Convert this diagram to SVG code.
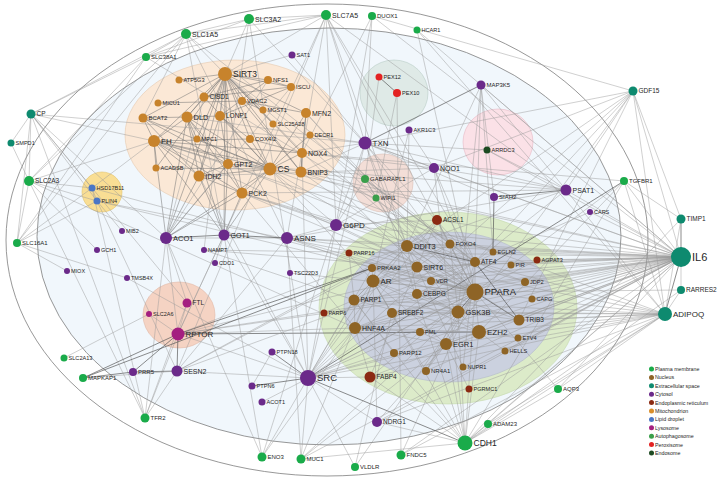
<svg xmlns="http://www.w3.org/2000/svg" width="718" height="481" viewBox="0 0 718 481">
<style>
text{font-family:"Liberation Sans",Arial,sans-serif;fill:#262626}
.f5{font-size:5.5px}.f56{font-size:5.6px}.f6{font-size:6px}.f65{font-size:6.5px}.f7{font-size:7px}.f75{font-size:7.5px}.f8{font-size:8px}.f85{font-size:8.5px}.f95{font-size:9.5px}.f11{font-size:11px}
.pm{fill:#1aab4a}.ex{fill:#0e8a6f}.cy{fill:#6b2a8a}.mi{fill:#c7832c}.nu{fill:#8e6426}.er{fill:#8b2a12}.li{fill:#4a76c6}.ly{fill:#a41f80}.au{fill:#3a9f4b}.px{fill:#e32222}.en{fill:#1d4b22}
#connectors path{fill:none;stroke:#999;stroke-width:.55;stroke-opacity:.85}
#connectors .m{stroke:#707070;stroke-width:.6}
#connectors .d{stroke:#555;stroke-width:.8}
.lg{font-size:5.3px}
</style>
<rect width="718" height="481" fill="#fff"/>
<g id="compartments">
<ellipse cx="327" cy="240" rx="321" ry="236" fill="none" stroke="#7d7d7d" stroke-width=".8"/>
<ellipse cx="329" cy="236.5" rx="292" ry="208.5" fill="#f1f7fc" stroke="#7d7d7d" stroke-width=".8"/>
<ellipse cx="235" cy="135" rx="110" ry="75" fill="#fbe8d6" stroke="#e5c9ae" stroke-width=".6"/>
<ellipse cx="102" cy="192" rx="20" ry="20" fill="#f9de94" stroke="#e3c46e" stroke-width=".6"/>
<ellipse cx="179" cy="315" rx="36" ry="33" fill="#f5d3c3" stroke="#e0b7a4" stroke-width=".6"/>
<ellipse cx="394" cy="93" rx="34" ry="33" fill="#dfeae7" stroke="#b9ccc6" stroke-width=".6"/>
<ellipse cx="498" cy="142" rx="35" ry="33" fill="#fbe1e7" stroke="#e5b9c4" stroke-width=".6"/>
<ellipse cx="383" cy="183" rx="30" ry="29" fill="#f3ded7" stroke="#dcc0b5" stroke-width=".6"/>
<ellipse cx="448" cy="308" rx="129" ry="96" fill="#dcebc9" stroke="#c4d9ac" stroke-width=".6"/>
<ellipse cx="449" cy="307" rx="105" ry="75" fill="#cbd1df" stroke="#b2b9c9" stroke-width=".6"/>
</g>
<g id="connectors">
<path class="m" d="M225 74L270 169"/><path class="m" d="M225 74L199 176"/><path class="m" d="M225 74L154 141"/><path class="m" d="M225 74L187 117"/><path class="m" d="M225 74L220 116"/><path class="m" d="M225 74L268 80"/><path class="m" d="M225 74L291 87"/><path class="m" d="M225 74L242 101"/><path class="m" d="M225 74L263 110"/><path class="m" d="M225 74L306 113"/><path class="m" d="M225 74L273 124"/><path class="m" d="M225 74L250 139"/><path class="m" d="M225 74L302 153"/><path class="m" d="M225 74L301 172"/><path class="m" d="M225 74L242 193"/><path class="m" d="M225 74L204 97"/><path class="m" d="M225 74L143 118"/><path class="m" d="M225 74L156 168"/><path class="m" d="M225 74L228 164"/><path class="m" d="M225 74L166 238"/><path class="m" d="M225 74L224 235"/><path class="m" d="M225 74L179 80"/><path class="m" d="M225 74L197 139"/>
<path class="m" d="M270 169L154 141"/><path class="m" d="M270 169L187 117"/><path class="m" d="M270 169L199 176"/><path class="m" d="M270 169L228 164"/><path class="m" d="M270 169L242 193"/><path class="m" d="M270 169L166 238"/><path class="m" d="M270 169L224 235"/><path class="m" d="M270 169L143 118"/><path class="m" d="M270 169L220 116"/><path class="m" d="M270 169L306 113"/><path class="m" d="M270 169L302 153"/><path class="m" d="M270 169L250 139"/><path class="m" d="M270 169L197 139"/><path class="m" d="M270 169L156 168"/><path class="m" d="M270 169L310 135"/><path class="m" d="M270 169L204 97"/>
<path class="m" d="M154 141L187 117"/><path class="m" d="M154 141L199 176"/><path class="m" d="M154 141L228 164"/><path class="m" d="M154 141L242 193"/><path class="m" d="M154 141L166 238"/><path class="m" d="M154 141L224 235"/><path class="m" d="M154 141L143 118"/><path class="m" d="M154 141L250 139"/><path class="m" d="M154 141L302 153"/><path class="m" d="M154 141L301 172"/><path class="m" d="M154 141L156 168"/>
<path class="m" d="M187 117L199 176"/><path class="m" d="M187 117L228 164"/><path class="m" d="M187 117L143 118"/><path class="m" d="M187 117L220 116"/><path class="m" d="M187 117L166 238"/><path class="m" d="M187 117L224 235"/><path class="m" d="M187 117L242 193"/><path class="m" d="M187 117L204 97"/><path class="m" d="M187 117L197 139"/>
<path class="m" d="M199 176L228 164"/><path class="m" d="M199 176L242 193"/><path class="m" d="M199 176L166 238"/><path class="m" d="M199 176L224 235"/><path class="m" d="M199 176L143 118"/>
<path class="m" d="M228 164L242 193"/><path class="m" d="M228 164L224 235"/><path class="m" d="M228 164L166 238"/><path class="m" d="M242 193L224 235"/><path class="m" d="M242 193L166 238"/>
<path class="m" d="M301 172L302 153"/><path class="m" d="M301 172L306 113"/><path class="m" d="M301 172L242 101"/><path class="m" d="M242 101L306 113"/><path class="m" d="M268 80L291 87"/><path class="m" d="M268 80L204 97"/><path class="m" d="M268 80L220 116"/><path class="m" d="M220 116L250 139"/><path class="m" d="M220 116L291 87"/><path class="m" d="M306 113L302 153"/><path class="m" d="M291 87L204 97"/><path class="m" d="M228 164L143 118"/><path class="m" d="M250 139L302 153"/><path class="m" d="M220 116L228 164"/><path class="m" d="M220 116L199 176"/><path class="m" d="M158 103L242 101"/><path class="m" d="M263 110L242 101"/>
<path d="M225 74L186 34"/><path d="M225 74L326 15"/><path d="M225 74L249 19"/><path d="M225 74L292 55"/><path d="M225 74L475 292"/><path d="M225 74L417 267"/><path d="M225 74L450 244"/>
<path d="M270 169L475 292"/><path d="M270 169L665 314"/><path d="M270 169L373 281"/><path d="M270 169L336 225"/><path d="M270 169L681 257"/><path d="M154 141L475 292"/><path d="M154 141L493 252"/><path d="M199 176L434 168"/><path d="M199 176L308 378"/>
<path d="M242 193L475 262"/><path d="M242 193L475 292"/><path d="M242 193L355 328"/><path d="M242 193L407 246"/><path d="M228 164L475 262"/><path d="M302 153L365 143"/><path d="M302 153L434 168"/><path d="M302 153L624 181"/><path d="M302 153L308 378"/>
<path d="M301 172L365 143"/><path d="M301 172L407 246"/><path d="M301 172L365 179"/><path d="M301 172L376 198"/><path d="M301 172L681 257"/><path d="M306 113L475 292"/><path d="M187 117L365 143"/><path d="M306 113L365 179"/><path d="M310 135L475 292"/><path d="M204 97L166 238"/><path d="M268 80L166 238"/><path d="M291 87L166 238"/><path d="M143 118L186 34"/>
<path d="M186 34L249 19"/><path d="M186 34L326 15"/><path d="M249 19L326 15"/><path d="M186 34L146 57"/><path d="M146 57L249 19"/><path d="M146 57L326 15"/><path d="M186 34L287 238"/><path d="M326 15L287 238"/><path d="M249 19L475 262"/><path d="M326 15L475 262"/><path d="M326 15L407 246"/><path d="M186 34L475 262"/><path d="M146 57L475 262"/><path d="M326 15L178 334"/><path d="M326 15L177 371"/><path d="M186 34L29 181"/><path d="M146 57L29 181"/><path d="M326 15L566 190"/><path d="M186 34L17 243"/><path d="M249 19L308 378"/><path d="M326 15L365 143"/><path d="M186 34L224 235"/><path d="M186 34L31 114"/><path d="M146 57L31 114"/><path d="M249 19L228 164"/><path d="M326 15L336 225"/><path d="M326 15L475 292"/>
<path d="M372 16L302 153"/><path d="M372 16L365 143"/><path d="M372 16L336 225"/><path d="M372 16L681 257"/><path d="M372 16L633 91"/><path d="M417 30L475 292"/><path d="M417 30L665 314"/><path d="M417 30L681 257"/><path d="M292 55L365 143"/>
<path d="M31 114L11 143"/><path d="M31 114L29 181"/><path d="M31 114L17 243"/><path d="M31 114L92 188"/><path d="M31 114L97 201"/><path d="M31 114L166 238"/><path d="M31 114L187 303"/><path d="M31 114L145 418"/><path d="M31 114L365 143"/><path d="M31 114L154 141"/>
<path d="M11 143L29 181"/><path d="M29 181L17 243"/><path d="M29 181L92 188"/><path d="M29 181L97 201"/><path d="M29 181L154 141"/><path d="M29 181L355 328"/><path d="M17 243L97 201"/><path d="M17 243L92 188"/><path d="M17 243L146 57"/><path d="M17 243L127 278"/><path d="M92 188L97 201"/><path d="M92 188L154 141"/><path d="M92 188L475 292"/><path d="M97 201L475 292"/><path d="M97 201L665 314"/><path d="M97 201L177 371"/><path d="M92 188L145 418"/><path d="M122 231L97 201"/><path d="M97 250L29 181"/><path d="M67 271L17 243"/><path d="M127 278L308 378"/>
<path d="M187 303L178 334"/><path d="M187 303L145 418"/><path d="M187 303L166 238"/><path d="M149 314L178 334"/><path d="M149 314L64 358"/><path class="d" d="M178 334L177 371"/><path class="d" d="M178 334L133 372"/><path class="d" d="M178 334L83 378"/><path d="M178 334L145 418"/><path d="M178 334L475 262"/><path d="M178 334L407 246"/><path class="d" d="M178 334L372 268"/><path d="M178 334L355 328"/><path d="M178 334L681 257"/><path d="M178 334L166 238"/><path d="M178 334L224 235"/><path d="M178 334L475 292"/><path d="M178 334L308 378"/><path class="d" d="M178 334L479 332"/>
<path class="d" d="M133 372L83 378"/><path class="d" d="M133 372L177 371"/><path d="M83 378L177 371"/><path class="d" d="M83 378L372 268"/><path d="M177 371L475 262"/><path d="M177 371L407 246"/><path d="M177 371L372 268"/><path d="M177 371L145 418"/><path d="M145 418L29 181"/><path d="M145 418L166 238"/>
<path class="d" d="M166 238L224 235"/><path d="M166 238L287 238"/><path d="M166 238L262 457"/><path class="d" d="M224 235L287 238"/><path d="M224 235L262 457"/><path d="M224 235L308 378"/><path d="M215 263L224 235"/>
<path d="M287 238L475 262"/><path d="M287 238L407 246"/><path d="M287 238L566 190"/><path d="M287 238L336 225"/><path d="M287 238L177 371"/><path d="M287 238L475 292"/><path d="M287 238L301 459"/><path d="M287 238L519 320"/><path d="M287 238L681 257"/>
<path d="M336 225L365 143"/><path d="M336 225L434 168"/><path d="M336 225L308 378"/><path d="M336 225L475 292"/><path d="M336 225L681 257"/><path d="M336 225L437 220"/><path d="M336 225L365 179"/><path d="M336 225L242 193"/><path d="M336 225L262 457"/>
<path d="M204 250L225 74"/><path d="M204 250L417 267"/><path d="M204 250L354 300"/><path d="M204 250L681 257"/><path d="M290 273L475 292"/>
<path d="M365 179L376 198"/><path d="M365 179L450 244"/><path d="M365 179L407 246"/><path d="M365 179L475 262"/><path d="M365 179L475 292"/><path d="M376 198L407 246"/><path d="M376 198L397 93"/><path class="d" d="M379 77L397 93"/><path d="M397 93L401 455"/><path d="M379 77L365 179"/>
<path class="d" d="M481 85L365 143"/><path d="M481 85L566 190"/><path d="M481 85L407 246"/><path d="M481 85L475 262"/><path d="M481 85L494 197"/><path d="M481 85L493 252"/><path d="M481 85L681 257"/><path d="M481 85L458 312"/>
<path d="M633 91L681 219"/><path d="M633 91L681 257"/><path d="M633 91L665 314"/><path d="M633 91L475 262"/><path d="M633 91L407 246"/><path d="M633 91L566 190"/><path d="M633 91L434 168"/><path d="M633 91L365 143"/><path d="M633 91L446 344"/><path d="M633 91L308 378"/><path d="M633 91L519 320"/>
<path class="d" d="M681 219L681 257"/><path d="M681 219L665 314"/><path d="M681 219L624 181"/><path d="M681 219L465 443"/>
<path d="M624 181L681 257"/><path d="M624 181L665 314"/><path class="d" d="M624 181L308 378"/><path d="M624 181L465 443"/><path d="M624 181L479 332"/><path d="M624 181L475 292"/>
<path d="M487 150L365 143"/><path d="M487 150L566 190"/><path d="M487 150L681 257"/>
<path d="M365 143L434 168"/><path d="M365 143L566 190"/><path d="M365 143L681 257"/><path d="M365 143L407 246"/><path d="M365 143L308 378"/><path d="M365 143L465 443"/><path d="M365 143L494 197"/><path d="M365 143L475 292"/>
<path d="M434 168L566 190"/><path d="M434 168L681 257"/><path d="M434 168L475 262"/><path d="M434 168L465 443"/><path d="M434 168L475 292"/><path d="M409 130L373 281"/><path d="M409 130L434 168"/><path d="M409 130L407 246"/>
<path class="d" d="M566 190L494 197"/><path d="M566 190L475 262"/><path d="M566 190L407 246"/><path d="M566 190L681 257"/><path d="M566 190L665 314"/><path d="M566 190L242 193"/><path d="M566 190L228 164"/><path class="d" d="M494 197L493 252"/><path d="M590 212L475 262"/><path d="M590 212L681 257"/><path d="M493 252L681 257"/>
<path d="M681 257L681 290"/><path class="d" d="M681 257L665 314"/><path d="M681 257L475 292"/><path d="M681 257L475 262"/><path d="M681 257L407 246"/><path d="M681 257L446 344"/><path d="M681 257L479 332"/><path d="M681 257L458 312"/><path d="M681 257L519 320"/><path d="M681 257L373 281"/><path d="M681 257L355 328"/><path d="M681 257L392 313"/><path d="M681 257L417 267"/><path d="M681 257L354 300"/><path d="M681 257L308 378"/><path d="M681 257L465 443"/><path d="M681 257L377 422"/><path d="M681 257L437 220"/><path d="M681 257L370 377"/><path d="M681 257L525 282"/><path d="M681 257L511 265"/><path d="M681 257L532 299"/><path d="M681 257L537 260"/><path d="M681 257L505 351"/><path d="M681 257L518 338"/><path d="M681 257L431 281"/><path d="M681 257L417 294"/><path d="M681 257L450 244"/><path d="M681 257L558 389"/><path d="M681 257L488 424"/><path d="M681 257L401 455"/><path d="M681 257L301 459"/><path d="M681 257L426 371"/><path d="M681 257L420 332"/><path d="M681 257L463 367"/><path d="M681 257L372 268"/>
<path d="M665 314L475 292"/><path d="M665 314L681 290"/><path d="M665 314L446 344"/><path d="M665 314L479 332"/><path d="M665 314L355 328"/><path d="M665 314L370 377"/><path d="M665 314L308 378"/><path d="M665 314L465 443"/><path d="M665 314L354 300"/><path d="M665 314L392 313"/><path d="M665 314L519 320"/><path d="M665 314L458 312"/><path d="M665 314L475 262"/><path d="M665 314L401 455"/><path d="M665 314L377 422"/><path d="M665 314L558 389"/><path d="M665 314L488 424"/><path d="M681 290L475 292"/><path d="M681 290L465 443"/>
<path class="d" d="M308 378L252 386"/><path class="d" d="M308 378L272 352"/><path d="M252 386L272 352"/><path class="d" d="M308 378L465 443"/><path d="M308 378L301 459"/><path d="M308 378L262 457"/><path d="M308 378L355 467"/><path d="M308 378L377 422"/><path d="M308 378L479 332"/><path d="M308 378L446 344"/><path d="M308 378L373 281"/><path d="M308 378L354 300"/><path d="M308 378L355 328"/><path d="M308 378L458 312"/><path d="M308 378L475 292"/><path d="M308 378L370 377"/><path d="M308 378L177 371"/><path d="M308 378L372 268"/><path d="M308 378L475 262"/><path d="M308 378L407 246"/>
<path d="M262 402L475 292"/><path d="M262 457L355 328"/><path d="M301 459L465 443"/><path d="M301 459L446 344"/><path d="M301 459L373 281"/><path d="M301 459L458 312"/><path d="M355 467L475 292"/><path d="M355 467L392 313"/><path d="M401 455L475 292"/>
<path d="M377 422L465 443"/><path d="M377 422L446 344"/><path d="M377 422L373 281"/><path d="M488 424L465 443"/><path d="M558 389L465 443"/><path d="M558 389L475 292"/>
<path d="M465 443L479 332"/><path d="M465 443L458 312"/><path d="M465 443L446 344"/><path d="M465 443L373 281"/><path d="M465 443L355 328"/><path d="M465 443L475 292"/><path d="M465 443L354 300"/><path d="M465 443L370 377"/>
<path d="M475 292L373 281"/><path d="M475 292L355 328"/><path class="d" d="M475 292L458 312"/><path d="M475 292L479 332"/><path class="d" d="M475 292L519 320"/><path d="M475 292L475 262"/><path d="M475 292L407 246"/><path d="M475 292L417 267"/><path d="M475 292L417 294"/><path d="M475 292L392 313"/><path d="M475 292L446 344"/><path d="M475 292L354 300"/><path d="M475 292L450 244"/><path d="M475 292L420 332"/><path d="M475 292L431 281"/><path d="M475 292L372 268"/><path d="M475 292L426 371"/><path d="M475 292L437 220"/><path d="M475 292L370 377"/><path d="M475 292L349 253"/>
<path d="M458 312L373 281"/><path d="M458 312L479 332"/><path d="M458 312L519 320"/><path d="M458 312L475 262"/><path d="M458 312L407 246"/><path d="M458 312L392 313"/><path d="M458 312L355 328"/><path d="M458 312L417 294"/><path d="M458 312L354 300"/><path d="M458 312L450 244"/><path d="M458 312L426 371"/><path d="M458 312L372 268"/>
<path class="d" d="M475 262L407 246"/><path class="d" d="M475 262L519 320"/><path d="M475 262L417 294"/><path d="M475 262L525 282"/><path d="M475 262L450 244"/><path d="M475 262L463 367"/><path d="M407 246L519 320"/><path d="M407 246L417 294"/><path d="M407 246L373 281"/><path d="M407 246L525 282"/><path d="M407 246L354 300"/><path d="M407 246L463 367"/>
<path d="M479 332L373 281"/><path d="M479 332L446 344"/><path d="M479 332L355 328"/><path d="M479 332L354 300"/><path d="M479 332L505 351"/><path d="M479 332L518 338"/>
<path d="M373 281L354 300"/><path d="M373 281L355 328"/><path d="M373 281L446 344"/><path d="M373 281L417 267"/><path d="M373 281L372 268"/><path d="M373 281L431 281"/><path d="M373 281L392 313"/><path d="M373 281L450 244"/><path d="M373 281L426 371"/>
<path d="M355 328L354 300"/><path d="M355 328L392 313"/><path d="M355 328L446 344"/><path d="M355 328L420 332"/><path d="M355 328L370 377"/><path d="M446 344L426 371"/><path d="M446 344L420 332"/><path d="M417 267L354 300"/><path d="M417 267L450 244"/><path d="M417 267L372 268"/><path d="M354 300L394 353"/><path d="M354 300L349 253"/><path d="M354 300L324 313"/><path d="M394 353L420 332"/>
<path d="M437 220L407 246"/><path d="M437 220L355 328"/><path d="M437 220L450 244"/><path d="M437 220L370 377"/><path d="M537 260L475 292"/><path d="M469 389L446 344"/><path d="M450 244L407 246"/>
</g>
<g id="nodes">
<g id="n-SLC3A2"><circle class="pm" cx="249" cy="19" r="5"/><text class="f7" x="255" y="21.5">SLC3A2</text></g>
<g id="n-SLC7A5"><circle class="pm" cx="326" cy="15" r="5"/><text class="f7" x="332" y="17.5">SLC7A5</text></g>
<g id="n-SLC1A5"><circle class="pm" cx="186" cy="34" r="5"/><text class="f7" x="192" y="36.5">SLC1A5</text></g>
<g id="n-SLC38A1"><circle class="pm" cx="146" cy="57" r="4"/><text class="f6" x="151" y="59.2">SLC38A1</text></g>
<g id="n-DUOX1"><circle class="pm" cx="372" cy="16" r="4"/><text class="f6" x="377" y="18.2">DUOX1</text></g>
<g id="n-HCAR1"><circle class="pm" cx="417" cy="30" r="3.5"/><text class="f56" x="421.5" y="32">HCAR1</text></g>
<g id="n-SLC2A3"><circle class="pm" cx="29" cy="181" r="5"/><text class="f65" x="35" y="183.3">SLC2A3</text></g>
<g id="n-SLC16A1"><circle class="pm" cx="17" cy="243" r="4"/><text class="f6" x="22" y="245.2">SLC16A1</text></g>
<g id="n-SLC2A13"><circle class="pm" cx="64" cy="358" r="3.5"/><text class="f56" x="68.5" y="360">SLC2A13</text></g>
<g id="n-MAPKAP1"><circle class="pm" cx="83" cy="378" r="4"/><text class="f6" x="88" y="380.2">MAPKAP1</text></g>
<g id="n-TFR2"><circle class="pm" cx="145" cy="418" r="4.5"/><text class="f6" x="150.5" y="420.2">TFR2</text></g>
<g id="n-ENO3"><circle class="pm" cx="262" cy="457" r="4.5"/><text class="f6" x="267.5" y="459.2">ENO3</text></g>
<g id="n-MUC1"><circle class="pm" cx="301" cy="459" r="4.5"/><text class="f6" x="306.5" y="461.2">MUC1</text></g>
<g id="n-VLDLR"><circle class="pm" cx="355" cy="467" r="4"/><text class="f6" x="360" y="469.2">VLDLR</text></g>
<g id="n-FNDC5"><circle class="pm" cx="401" cy="455" r="4.5"/><text class="f6" x="406.5" y="457.2">FNDC5</text></g>
<g id="n-CDH1"><circle class="pm" cx="465" cy="443" r="7.5"/><text class="f85" x="473.5" y="446">CDH1</text></g>
<g id="n-ADAM23"><circle class="pm" cx="488" cy="424" r="4"/><text class="f6" x="493" y="426.2">ADAM23</text></g>
<g id="n-AQP3"><circle class="pm" cx="558" cy="389" r="4"/><text class="f6" x="563" y="391.2">AQP3</text></g>
<g id="n-TGFBR1"><circle class="pm" cx="624" cy="181" r="4"/><text class="f6" x="629" y="183.2">TGFBR1</text></g>
<g id="n-CP"><circle class="ex" cx="31" cy="114" r="4.5"/><text class="f65" x="36.5" y="116.3">CP</text></g>
<g id="n-SMPD1"><circle class="ex" cx="11" cy="143" r="3.5"/><text class="f56" x="15.5" y="145">SMPD1</text></g>
<g id="n-GDF15"><circle class="ex" cx="633" cy="91" r="4.5"/><text class="f65" x="638.5" y="93.3">GDF15</text></g>
<g id="n-TIMP1"><circle class="ex" cx="681" cy="219" r="4.5"/><text class="f65" x="686.5" y="221.3">TIMP1</text></g>
<g id="n-IL6"><circle class="ex" cx="681" cy="257" r="10"/><text class="f11" x="692" y="261">IL6</text></g>
<g id="n-RARRES2"><circle class="ex" cx="681" cy="290" r="4"/><text class="f65" x="686" y="292.3">RARRES2</text></g>
<g id="n-ADIPOQ"><circle class="ex" cx="665" cy="314" r="7"/><text class="f8" x="673" y="317">ADIPOQ</text></g>
<g id="n-SAT1"><circle class="cy" cx="292" cy="55" r="3.5"/><text class="f56" x="296.5" y="57">SAT1</text></g>
<g id="n-MIB2"><circle class="cy" cx="122" cy="231" r="3"/><text class="f5" x="126" y="233">MIB2</text></g>
<g id="n-ACO1"><circle class="cy" cx="166" cy="238" r="6"/><text class="f75" x="173" y="240.7">ACO1</text></g>
<g id="n-GOT1"><circle class="cy" cx="224" cy="235" r="5.5"/><text class="f7" x="230.5" y="237.5">GOT1</text></g>
<g id="n-ASNS"><circle class="cy" cx="287" cy="238" r="6"/><text class="f8" x="294" y="240.9">ASNS</text></g>
<g id="n-G6PD"><circle class="cy" cx="336" cy="225" r="6"/><text class="f8" x="343" y="227.9">G6PD</text></g>
<g id="n-GCH1"><circle class="cy" cx="97" cy="250" r="3"/><text class="f5" x="101" y="252">GCH1</text></g>
<g id="n-NAMPT"><circle class="cy" cx="204" cy="250" r="3"/><text class="f5" x="208" y="252">NAMPT</text></g>
<g id="n-CDO1"><circle class="cy" cx="215" cy="263" r="3"/><text class="f5" x="219" y="265">CDO1</text></g>
<g id="n-MIOX"><circle class="cy" cx="67" cy="271" r="3"/><text class="f5" x="71" y="273">MIOX</text></g>
<g id="n-TMSB4X"><circle class="cy" cx="127" cy="278" r="3"/><text class="f5" x="131" y="280">TMSB4X</text></g>
<g id="n-TSC22D3"><circle class="cy" cx="290" cy="273" r="3"/><text class="f5" x="294" y="275">TSC22D3</text></g>
<g id="n-PTPN18"><circle class="cy" cx="272" cy="352" r="3.5"/><text class="f56" x="276.5" y="354">PTPN18</text></g>
<g id="n-PRR5"><circle class="cy" cx="133" cy="372" r="4"/><text class="f6" x="138" y="374.2">PRR5</text></g>
<g id="n-SESN2"><circle class="cy" cx="177" cy="371" r="5.5"/><text class="f7" x="183.5" y="373.5">SESN2</text></g>
<g id="n-SRC"><circle class="cy" cx="308" cy="378" r="8"/><text class="f95" x="317" y="381.4">SRC</text></g>
<g id="n-PTPN6"><circle class="cy" cx="252" cy="386" r="3.5"/><text class="f56" x="256.5" y="388">PTPN6</text></g>
<g id="n-ACOT1"><circle class="cy" cx="262" cy="402" r="3.5"/><text class="f56" x="266.5" y="404">ACOT1</text></g>
<g id="n-MAP3K5"><circle class="cy" cx="481" cy="85" r="4.5"/><text class="f6" x="486.5" y="87.2">MAP3K5</text></g>
<g id="n-AKR1C3"><circle class="cy" cx="409" cy="130" r="3.5"/><text class="f56" x="413.5" y="132">AKR1C3</text></g>
<g id="n-TXN"><circle class="cy" cx="365" cy="143" r="6.5"/><text class="f8" x="372.5" y="145.9">TXN</text></g>
<g id="n-NQO1"><circle class="cy" cx="434" cy="168" r="5"/><text class="f7" x="440" y="170.5">NQO1</text></g>
<g id="n-PSAT1"><circle class="cy" cx="566" cy="190" r="5.5"/><text class="f7" x="572.5" y="192.5">PSAT1</text></g>
<g id="n-SIAH2"><circle class="cy" cx="494" cy="197" r="4"/><text class="f6" x="499" y="199.2">SIAH2</text></g>
<g id="n-CARS"><circle class="cy" cx="590" cy="212" r="3"/><text class="f5" x="594" y="214">CARS</text></g>
<g id="n-NDRG1"><circle class="cy" cx="377" cy="422" r="5"/><text class="f65" x="383" y="424.3">NDRG1</text></g>
<g id="n-SIRT3"><circle class="mi" cx="225" cy="74" r="7"/><text class="f85" x="233" y="77">SIRT3</text></g>
<g id="n-ATP5G3"><circle class="mi" cx="179" cy="80" r="3.5"/><text class="f56" x="183.5" y="82">ATP5G3</text></g>
<g id="n-NFS1"><circle class="mi" cx="268" cy="80" r="4"/><text class="f6" x="273" y="82.2">NFS1</text></g>
<g id="n-ISCU"><circle class="mi" cx="291" cy="87" r="4"/><text class="f6" x="296" y="89.2">ISCU</text></g>
<g id="n-CISD1"><circle class="mi" cx="204" cy="97" r="4.5"/><text class="f65" x="209.5" y="99.3">CISD1</text></g>
<g id="n-MICU1"><circle class="mi" cx="158" cy="103" r="3.5"/><text class="f56" x="162.5" y="105">MICU1</text></g>
<g id="n-VDAC2"><circle class="mi" cx="242" cy="101" r="4"/><text class="f6" x="247" y="103.2">VDAC2</text></g>
<g id="n-MGST1"><circle class="mi" cx="263" cy="110" r="3.5"/><text class="f56" x="267.5" y="112">MGST1</text></g>
<g id="n-MFN2"><circle class="mi" cx="306" cy="113" r="5"/><text class="f7" x="312" y="115.5">MFN2</text></g>
<g id="n-BCAT2"><circle class="mi" cx="143" cy="118" r="4.5"/><text class="f6" x="148.5" y="120.2">BCAT2</text></g>
<g id="n-DLD"><circle class="mi" cx="187" cy="117" r="5.5"/><text class="f75" x="193.5" y="119.7">DLD</text></g>
<g id="n-LONP1"><circle class="mi" cx="220" cy="116" r="5"/><text class="f65" x="226" y="118.3">LONP1</text></g>
<g id="n-SLC25A28"><circle class="mi" cx="273" cy="124" r="3.5"/><text class="f56" x="277.5" y="126">SLC25A28</text></g>
<g id="n-DECR1"><circle class="mi" cx="310" cy="135" r="3.5"/><text class="f56" x="314.5" y="137">DECR1</text></g>
<g id="n-FH"><circle class="mi" cx="154" cy="141" r="6"/><text class="f8" x="161" y="143.9">FH</text></g>
<g id="n-MPC1"><circle class="mi" cx="197" cy="139" r="3.5"/><text class="f56" x="201.5" y="141">MPC1</text></g>
<g id="n-COX4I2"><circle class="mi" cx="250" cy="139" r="4"/><text class="f6" x="255" y="141.2">COX4I2</text></g>
<g id="n-NOX4"><circle class="mi" cx="302" cy="153" r="5"/><text class="f7" x="308" y="155.5">NOX4</text></g>
<g id="n-ACADSB"><circle class="mi" cx="156" cy="168" r="3.5"/><text class="f56" x="160.5" y="170">ACADSB</text></g>
<g id="n-GPT2"><circle class="mi" cx="228" cy="164" r="5"/><text class="f7" x="234" y="166.5">GPT2</text></g>
<g id="n-CS"><circle class="mi" cx="270" cy="169" r="6.5"/><text class="f85" x="277.5" y="172">CS</text></g>
<g id="n-BNIP3"><circle class="mi" cx="301" cy="172" r="5.5"/><text class="f7" x="307.5" y="174.5">BNIP3</text></g>
<g id="n-IDH2"><circle class="mi" cx="199" cy="176" r="5.5"/><text class="f7" x="205.5" y="178.5">IDH2</text></g>
<g id="n-PCK2"><circle class="mi" cx="242" cy="193" r="5.5"/><text class="f7" x="248.5" y="195.5">PCK2</text></g>
<g id="n-HSD17B11"><circle class="li" cx="92" cy="188" r="3.5"/><text class="f56" x="96.5" y="190">HSD17B11</text></g>
<g id="n-PLIN4"><circle class="li" cx="97" cy="201" r="3.5"/><text class="f56" x="101.5" y="203">PLIN4</text></g>
<g id="n-FTL"><circle class="ly" cx="187" cy="303" r="4.5"/><text class="f65" x="192.5" y="305.3">FTL</text></g>
<g id="n-SLC2A6"><circle class="ly" cx="149" cy="314" r="3"/><text class="f5" x="153" y="316">SLC2A6</text></g>
<g id="n-RPTOR"><circle class="ly" cx="178" cy="334" r="6.5"/><text class="f8" x="185.5" y="336.9">RPTOR</text></g>
<g id="n-GABARAPL1"><circle class="au" cx="365" cy="179" r="4"/><text class="f6" x="370" y="181.2">GABARAPL1</text></g>
<g id="n-WIPI1"><circle class="au" cx="376" cy="198" r="3.5"/><text class="f56" x="380.5" y="200">WIPI1</text></g>
<g id="n-PEX12"><circle class="px" cx="379" cy="77" r="3.5"/><text class="f56" x="383.5" y="79">PEX12</text></g>
<g id="n-PEX10"><circle class="px" cx="397" cy="93" r="4"/><text class="f56" x="402" y="95">PEX10</text></g>
<g id="n-ARRDC3"><circle class="en" cx="487" cy="150" r="3.5"/><text class="f56" x="491.5" y="152">ARRDC3</text></g>
<g id="n-ACSL1"><circle class="er" cx="437" cy="220" r="5"/><text class="f65" x="443" y="222.3">ACSL1</text></g>
<g id="n-AGPAT3"><circle class="er" cx="537" cy="260" r="3.5"/><text class="f56" x="541.5" y="262">AGPAT3</text></g>
<g id="n-PARP16"><circle class="er" cx="349" cy="253" r="3.5"/><text class="f56" x="353.5" y="255">PARP16</text></g>
<g id="n-PARP6"><circle class="er" cx="324" cy="313" r="3.5"/><text class="f56" x="328.5" y="315">PARP6</text></g>
<g id="n-FABP4"><circle class="er" cx="370" cy="377" r="5.5"/><text class="f65" x="376.5" y="379.3">FABP4</text></g>
<g id="n-PGRMC1"><circle class="er" cx="469" cy="389" r="3.5"/><text class="f56" x="473.5" y="391">PGRMC1</text></g>
<g id="n-DDIT3"><circle class="nu" cx="407" cy="246" r="6"/><text class="f75" x="414" y="248.7">DDIT3</text></g>
<g id="n-FOXO4"><circle class="nu" cx="450" cy="244" r="4.5"/><text class="f6" x="455.5" y="246.2">FOXO4</text></g>
<g id="n-EGLN2"><circle class="nu" cx="493" cy="252" r="3.5"/><text class="f56" x="497.5" y="254">EGLN2</text></g>
<g id="n-ATF4"><circle class="nu" cx="475" cy="262" r="5"/><text class="f65" x="481" y="264.3">ATF4</text></g>
<g id="n-PIR"><circle class="nu" cx="511" cy="265" r="3.5"/><text class="f56" x="515.5" y="267">PIR</text></g>
<g id="n-PRKAA2"><circle class="nu" cx="372" cy="268" r="4"/><text class="f6" x="377" y="270.2">PRKAA2</text></g>
<g id="n-SIRT6"><circle class="nu" cx="417" cy="267" r="5.5"/><text class="f7" x="423.5" y="269.5">SIRT6</text></g>
<g id="n-AR"><circle class="nu" cx="373" cy="281" r="6.5"/><text class="f8" x="380.5" y="283.9">AR</text></g>
<g id="n-VDR"><circle class="nu" cx="431" cy="281" r="4"/><text class="f56" x="436" y="283">VDR</text></g>
<g id="n-JDP2"><circle class="nu" cx="525" cy="282" r="4"/><text class="f56" x="530" y="284">JDP2</text></g>
<g id="n-PPARA"><circle class="nu" cx="475" cy="292" r="8.5"/><text class="f95" x="484.5" y="295.4">PPARA</text></g>
<g id="n-CEBPG"><circle class="nu" cx="417" cy="294" r="5"/><text class="f65" x="423" y="296.3">CEBPG</text></g>
<g id="n-CAPG"><circle class="nu" cx="532" cy="299" r="3.5"/><text class="f56" x="536.5" y="301">CAPG</text></g>
<g id="n-PARP1"><circle class="nu" cx="354" cy="300" r="5.5"/><text class="f65" x="360.5" y="302.3">PARP1</text></g>
<g id="n-SREBF2"><circle class="nu" cx="392" cy="313" r="5"/><text class="f65" x="398" y="315.3">SREBF2</text></g>
<g id="n-GSK3B"><circle class="nu" cx="458" cy="312" r="6.5"/><text class="f75" x="465.5" y="314.7">GSK3B</text></g>
<g id="n-TRIB3"><circle class="nu" cx="519" cy="320" r="5.5"/><text class="f65" x="525.5" y="322.3">TRIB3</text></g>
<g id="n-HNF4A"><circle class="nu" cx="355" cy="328" r="6"/><text class="f7" x="362" y="330.5">HNF4A</text></g>
<g id="n-PML"><circle class="nu" cx="420" cy="332" r="4"/><text class="f56" x="425" y="334">PML</text></g>
<g id="n-EZH2"><circle class="nu" cx="479" cy="332" r="7"/><text class="f8" x="487" y="334.9">EZH2</text></g>
<g id="n-ETV4"><circle class="nu" cx="518" cy="338" r="3.5"/><text class="f56" x="522.5" y="340">ETV4</text></g>
<g id="n-EGR1"><circle class="nu" cx="446" cy="344" r="6"/><text class="f75" x="453" y="346.7">EGR1</text></g>
<g id="n-HELLS"><circle class="nu" cx="505" cy="351" r="3.5"/><text class="f56" x="509.5" y="353">HELLS</text></g>
<g id="n-PARP12"><circle class="nu" cx="394" cy="353" r="4"/><text class="f6" x="399" y="355.2">PARP12</text></g>
<g id="n-NR4A1"><circle class="nu" cx="426" cy="371" r="4"/><text class="f6" x="431" y="373.2">NR4A1</text></g>
<g id="n-NUPR1"><circle class="nu" cx="463" cy="367" r="3.5"/><text class="f56" x="467.5" y="369">NUPR1</text></g>
</g>
<g id="legend">
<circle class="pm" cx="651.5" cy="369" r="2.5"/><text class="lg" x="655" y="370.9">Plasma membrane</text>
<circle class="nu" cx="651.5" cy="377.4" r="2.5"/><text class="lg" x="655" y="379.3">Nucleus</text>
<circle class="ex" cx="651.5" cy="385.8" r="2.5"/><text class="lg" x="655" y="387.7">Extracellular space</text>
<circle class="cy" cx="651.5" cy="394.2" r="2.5"/><text class="lg" x="655" y="396.1">Cytosol</text>
<circle class="er" cx="651.5" cy="402.6" r="2.5"/><text class="lg" x="655" y="404.5">Endoplasmic reticulum</text>
<circle fill="#d98e2b" cx="651.5" cy="411" r="2.5"/><text class="lg" x="655" y="412.9">Mitochondrion</text>
<circle class="li" cx="651.5" cy="419.4" r="2.5"/><text class="lg" x="655" y="421.3">Lipid droplet</text>
<circle class="ly" cx="651.5" cy="427.8" r="2.5"/><text class="lg" x="655" y="429.7">Lysosome</text>
<circle class="au" cx="651.5" cy="436.2" r="2.5"/><text class="lg" x="655" y="438.1">Autophagosome</text>
<circle class="px" cx="651.5" cy="444.6" r="2.5"/><text class="lg" x="655" y="446.5">Peroxisome</text>
<circle class="en" cx="651.5" cy="453" r="2.5"/><text class="lg" x="655" y="454.9">Endosome</text>
</g>
</svg>
